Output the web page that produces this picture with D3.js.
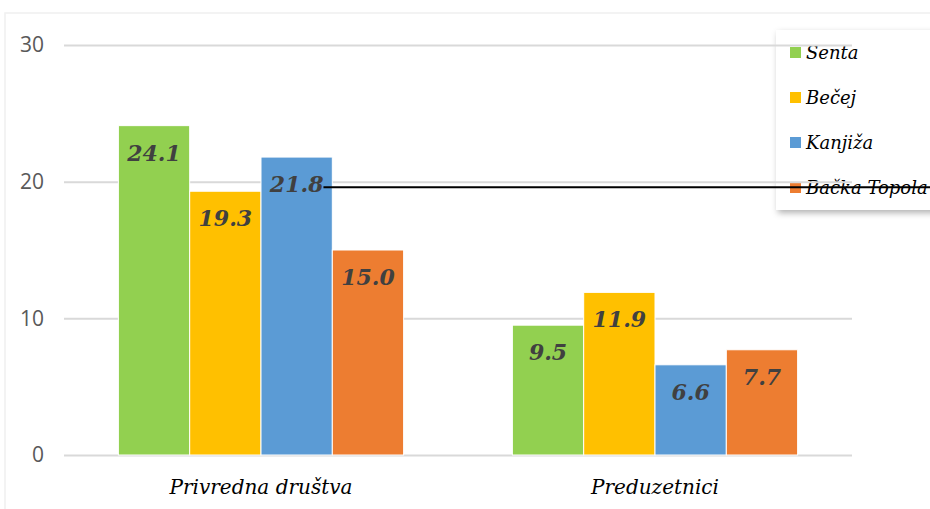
<!DOCTYPE html>
<html>
<head>
<meta charset="utf-8">
<script src="https://cdn.jsdelivr.net/npm/d3@7"></script>
<style>
  body { margin: 0; background: #fff; }
  svg { display: block; }
</style>
</head>
<body>
<svg id="chart" width="930" height="509"></svg>
<script>
// data
var categories = ["Privredna društva", "Preduzetnici"];
var seriesNames = ["Senta", "Bečej", "Kanjiža", "Bačka Topola"];
var senta = [24.1, 9.5];
var becej = [19.3, 11.9];
var kanjiza = [21.8, 6.6];
var backaTopola = [15.0, 7.7];
var yTicks = [0, 10, 20, 30];

var seriesValues = [senta, becej, kanjiza, backaTopola];
var colors = ["#92D050", "#FFC000", "#5B9BD5", "#ED7D31"];

var svg = d3.select("#chart");
var margin = { left: 64, right: 78, top: 45, bottom: 54 };
var width = 930, height = 509;

var defs = svg.append("defs");
var filter = defs.append("filter").attr("id", "shadow")
    .attr("x", "-10%").attr("y", "-10%").attr("width", "130%").attr("height", "130%");
filter.append("feDropShadow").attr("dx", 2).attr("dy", 3).attr("stdDeviation", 3)
    .attr("flood-color", "#000").attr("flood-opacity", 0.3);

// faint outer chart border
svg.append("rect")
    .attr("x", 5).attr("y", 13).attr("width", 940).attr("height", 520)
    .attr("fill", "none").attr("stroke", "#f0f0f0").attr("stroke-width", 1.5);

// legend background (behind gridlines)
var legend = svg.append("g").attr("transform", "translate(776,30)");
legend.append("rect")
    .attr("width", 160).attr("height", 180)
    .attr("fill", "#fff")
    .attr("filter", "url(#shadow)");

var x0 = d3.scaleBand()
    .domain(categories)
    .range([margin.left, width - margin.right])
    .paddingInner(0.276)
    .paddingOuter(0.138);

var x1 = d3.scaleBand()
    .domain(seriesNames)
    .range([0, x0.bandwidth()]);

var y = d3.scaleLinear()
    .domain([0, 30])
    .range([height - margin.bottom, margin.top]);

// gridlines + y labels
var yAxis = svg.append("g")
    .attr("transform", "translate(" + margin.left + ",0)")
    .call(d3.axisLeft(y).tickValues(yTicks).tickSize(-(width - margin.left - margin.right)).tickPadding(20));
yAxis.select(".domain").remove();
yAxis.selectAll(".tick line").attr("stroke", "#d9d9d9").attr("stroke-width", 2);
yAxis.selectAll(".tick text")
    .attr("fill", "#595959")
    .style("font-family", "'Open Sans', sans-serif")
    .style("font-size", "21px");

// bars
var groups = svg.append("g").selectAll("g")
    .data(categories)
    .enter().append("g")
    .attr("transform", function (d) { return "translate(" + x0(d) + ",0)"; });

var cells = groups.selectAll("g")
    .data(function (d, ci) {
        return seriesNames.map(function (s, si) {
            return { cat: d, series: s, value: seriesValues[si][ci], color: colors[si] };
        });
    })
    .enter().append("g");

cells.append("rect")
    .attr("x", function (d) { return x1(d.series); })
    .attr("y", function (d) { return y(d.value); })
    .attr("width", x1.bandwidth())
    .attr("height", function (d) { return y(0) - y(d.value); })
    .attr("fill", function (d) { return d.color; })
    .attr("stroke", "#fff")
    .attr("stroke-width", 1);

cells.append("text")
    .attr("class", "val")
    .attr("x", function (d) { return x1(d.series) + x1.bandwidth() / 2; })
    .attr("y", function (d) { return y(d.value) + 35; })
    .attr("text-anchor", "middle")
    .attr("fill", "#404040")
    .style("font-family", "'DejaVu Serif', serif")
    .style("font-weight", "bold")
    .style("font-style", "italic")
    .style("font-size", "22px")
    .text(function (d) { return d.value.toFixed(1); });

// category labels
svg.append("g").selectAll("text")
    .data(categories)
    .enter().append("text")
    .attr("x", function (d) { return x0(d) + x0.bandwidth() / 2; })
    .attr("y", height - 15)
    .attr("text-anchor", "middle")
    .attr("fill", "#000")
    .style("font-family", "'DejaVu Serif', serif")
    .style("font-style", "italic")
    .style("font-size", "20px")
    .text(function (d) { return d; });

// legend items
var items = legend.selectAll("g.item")
    .data(seriesNames)
    .enter().append("g")
    .attr("class", "item")
    .attr("transform", function (d, i) { return "translate(14," + (17 + i * 45) + ")"; });
items.append("rect")
    .attr("width", 11).attr("height", 11)
    .attr("fill", function (d, i) { return colors[i]; });
items.append("text")
    .attr("x", 16).attr("y", 12)
    .attr("fill", "#000")
    .style("font-family", "'DejaVu Serif', serif")
    .style("font-style", "italic")
    .style("font-size", "18px")
    .text(function (d) { return d; });

// stray leader line from the Kanjiža label across the legend
var kCell = cells.filter(function (d) { return d.series === "Kanjiža" && d.cat === categories[0]; });
var bb = kCell.select("text").node().getBBox();
var lineY = bb.y + bb.height * 0.62;
svg.append("line")
    .attr("x1", x0(categories[0]) + bb.x + bb.width).attr("x2", width)
    .attr("y1", lineY).attr("y2", lineY)
    .attr("stroke", "#000").attr("stroke-width", 2);
</script>
</body>
</html>
